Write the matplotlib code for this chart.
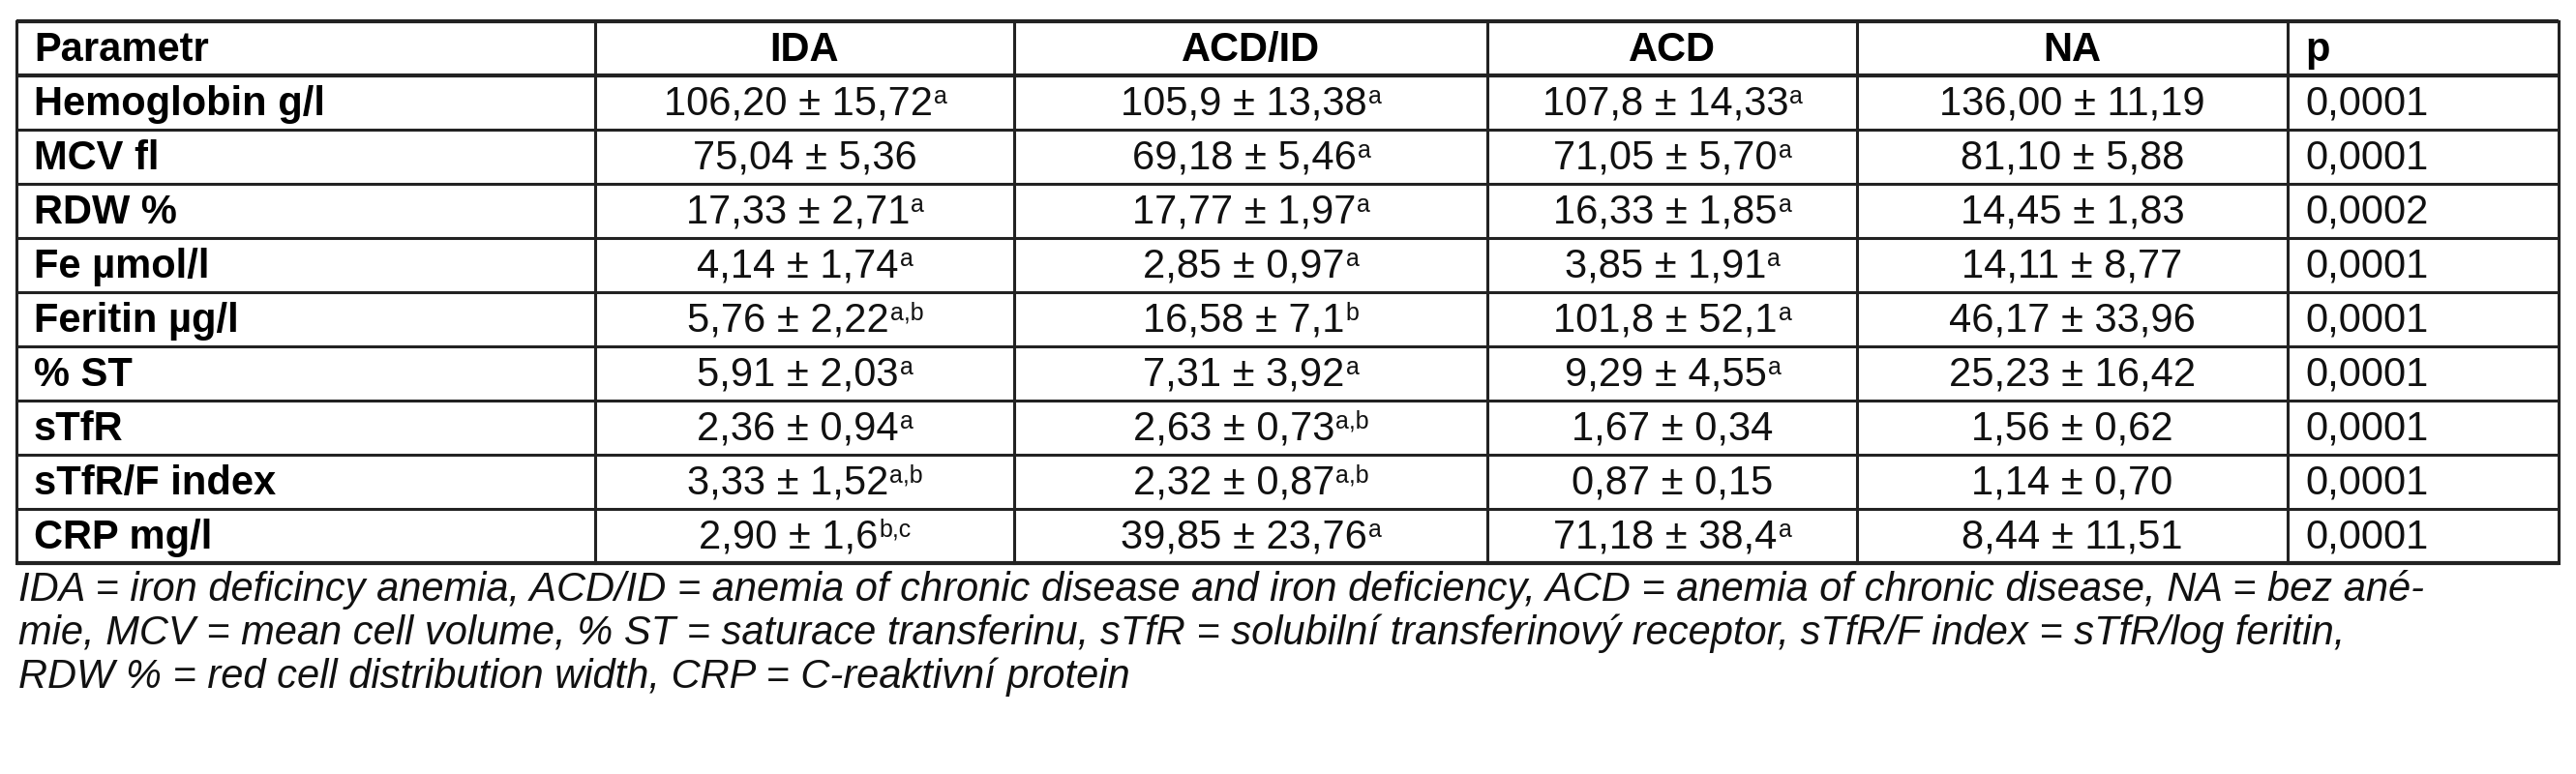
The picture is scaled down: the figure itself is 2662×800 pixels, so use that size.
import matplotlib
matplotlib.use("Agg")
import matplotlib.pyplot as plt
from matplotlib import font_manager as fm

names = {f.name for f in fm.fontManager.ttflist}
FONT = ['Liberation Sans Narrow', 'Liberation Sans', 'DejaVu Sans'] if 'Liberation Sans Narrow' in names else ['Liberation Sans', 'DejaVu Sans']

columns = ["Parametr", "IDA", "ACD/ID", "ACD", "NA", "p"]
params = ["Hemoglobin g/l", "MCV fl", "RDW %", "Fe µmol/l", "Feritin µg/l", "% ST", "sTfR", "sTfR/F index", "CRP mg/l"]
ida = ["106,20 ± 15,72", "75,04 ± 5,36", "17,33 ± 2,71", "4,14 ± 1,74", "5,76 ± 2,22", "5,91 ± 2,03", "2,36 ± 0,94", "3,33 ± 1,52", "2,90 ± 1,6"]
ida_sup = ["a", "", "a", "a", "a,b", "a", "a", "a,b", "b,c"]
acdid = ["105,9 ± 13,38", "69,18 ± 5,46", "17,77 ± 1,97", "2,85 ± 0,97", "16,58 ± 7,1", "7,31 ± 3,92", "2,63 ± 0,73", "2,32 ± 0,87", "39,85 ± 23,76"]
acdid_sup = ["a", "a", "a", "a", "b", "a", "a,b", "a,b", "a"]
acd = ["107,8 ± 14,33", "71,05 ± 5,70", "16,33 ± 1,85", "3,85 ± 1,91", "101,8 ± 52,1", "9,29 ± 4,55", "1,67 ± 0,34", "0,87 ± 0,15", "71,18 ± 38,4"]
acd_sup = ["a", "a", "a", "a", "a", "a", "", "", "a"]
na = ["136,00 ± 11,19", "81,10 ± 5,88", "14,45 ± 1,83", "14,11 ± 8,77", "46,17 ± 33,96", "25,23 ± 16,42", "1,56 ± 0,62", "1,14 ± 0,70", "8,44 ± 11,51"]
pvals = ["0,0001", "0,0001", "0,0002", "0,0001", "0,0001", "0,0001", "0,0001", "0,0001", "0,0001"]
footnote = [
    "IDA = iron deficincy anemia, ACD/ID = anemia of chronic disease and iron deficiency, ACD = anemia of chronic disease, NA = bez ané-",
    "mie, MCV = mean cell volume, % ST = saturace transferinu, sTfR = solubilní transferinový receptor, sTfR/F index = sTfR/log feritin,",
    "RDW % = red cell distribution width, CRP = C-reaktivní protein",
]

W, H = 2662, 800
fig = plt.figure(figsize=(W/100, H/100), dpi=100)
ax = fig.add_axes([0, 0, 1, 1])
ax.set_xlim(0, W); ax.set_ylim(H, 0); ax.axis('off')

xs = [17, 615, 1048, 1537, 1919, 2364, 2644]
top, rh = 22, 56
nrows = len(params) + 1
bottom = top + rh * nrows
lc = '#222222'
for i in range(nrows + 1):
    y = top + i * rh
    ax.plot([xs[0], xs[-1]], [y, y], color=lc, lw=3 if i in (0, 1, nrows) else 2.2, solid_capstyle='butt')
for x in xs:
    ax.plot([x, x], [top, bottom], color=lc, lw=2.2)

FS = 30
for j, c in enumerate(columns):
    yc = top + rh / 2 + 2
    if j in (0, 5):
        ax.text(xs[j] + 18, yc, c, ha='left', va='center', fontsize=FS, fontweight='bold', family=FONT)
    else:
        ax.text((xs[j] + xs[j+1]) / 2, yc, c, ha='center', va='center', fontsize=FS, fontweight='bold', family=FONT)

fig.canvas.draw()
r = fig.canvas.get_renderer()
inv = ax.transData.inverted()

def cell(j, i, txt, sup):
    yc = top + rh * (i + 1) + rh / 2 + 2
    xc = (xs[j] + xs[j+1]) / 2
    t = ax.text(xc, yc, txt, ha='center', va='center', fontsize=FS, family=FONT, color='#111111')
    if not sup:
        return
    bb = t.get_window_extent(r)
    x1 = inv.transform((bb.x1, 0))[0]
    s = ax.text(x1 + 1, yc - 8, sup, ha='left', va='center', fontsize=FS * 0.6, family=FONT, color='#111111')
    sb = s.get_window_extent(r)
    sw = inv.transform((sb.x1, 0))[0] - inv.transform((sb.x0, 0))[0]
    t.set_x(xc - sw / 2); s.set_x(x1 + 1 - sw / 2)

for i, p in enumerate(params):
    ax.text(xs[0] + 18, top + rh * (i + 1) + rh / 2 + 2, p, ha='left', va='center', fontsize=FS, fontweight='bold', family=FONT)
    cell(1, i, ida[i], ida_sup[i])
    cell(2, i, acdid[i], acdid_sup[i])
    cell(3, i, acd[i], acd_sup[i])
    cell(4, i, na[i], "")
    ax.text(xs[5] + 18, top + rh * (i + 1) + rh / 2 + 2, pvals[i], ha='left', va='center', fontsize=FS, family=FONT, color='#111111')

for k, line in enumerate(footnote):
    ax.text(xs[0] + 2, bottom + 28 + k * 45, line, ha='left', va='center', fontsize=30, style='italic', family=FONT, color='#111111')

fig.savefig('out.png', dpi=100)
